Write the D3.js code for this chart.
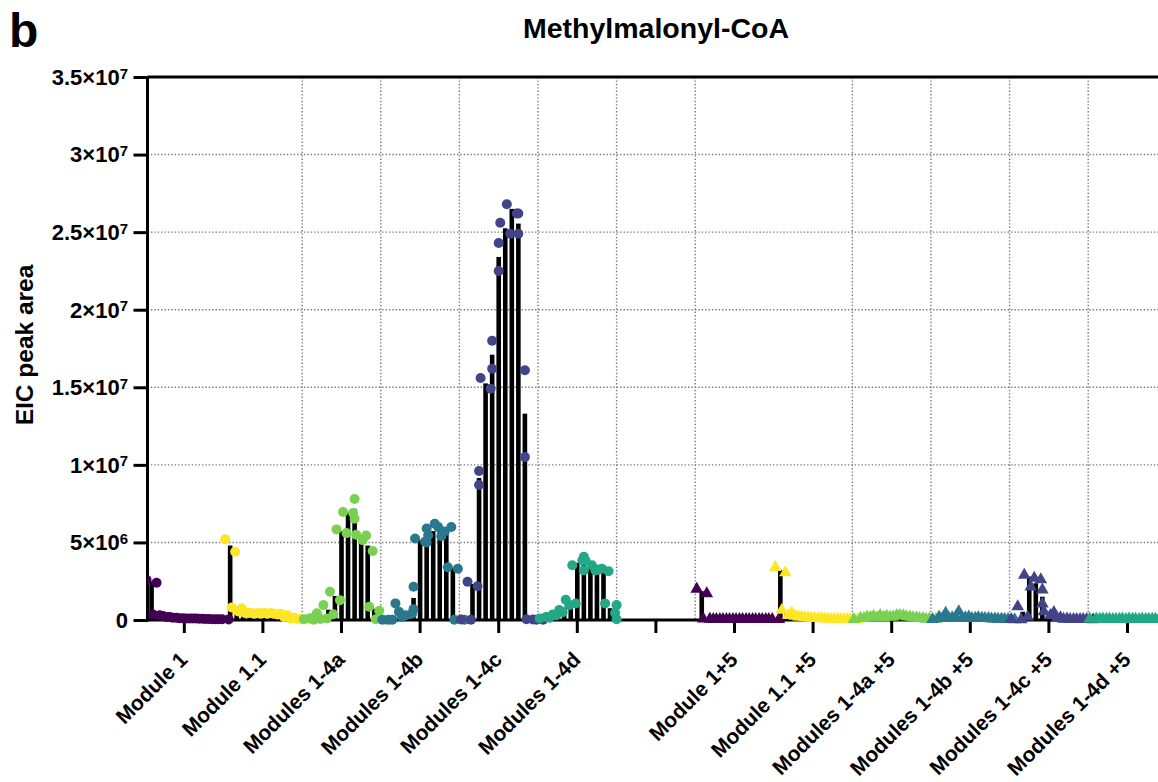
<!DOCTYPE html>
<html>
<head>
<meta charset="utf-8">
<script src="https://cdn.jsdelivr.net/npm/d3@7"></script>
<style>
  body { margin: 0; background: #ffffff; }
  svg { display: block; }
  text { font-family: "Liberation Sans", Arial, Helvetica, sans-serif; fill: #000; }
</style>
</head>
<body>
<svg id="chart" width="1158" height="782"></svg>
<script>
// Categories along the x axis (the empty entry is the spacer between the two sets)
const categories = [
  "Module 1", "Module 1.1", "Modules 1-4a", "Modules 1-4b", "Modules 1-4c", "Modules 1-4d",
  "",
  "Module 1+5", "Module 1.1 +5", "Modules 1-4a +5", "Modules 1-4b +5", "Modules 1-4c +5", "Modules 1-4d +5"
];

// Categories whose left edge carries a vertical grid line
const gridEdges = [
  "Modules 1-4a", "Modules 1-4b", "Modules 1-4c", "Modules 1-4d", "", "Module 1+5",
  "Modules 1-4a +5", "Modules 1-4b +5", "Modules 1-4c +5", "Modules 1-4d +5"
];

// EIC peak areas (×10^6) for fractions 1–12, two replicates each
const module1 = [[2.6,2.4],[0.35,0.25],[0.3,0.2],[0.2,0.15],[0.15,0.12],[0.12,0.1],[0.1,0.1],[0.1,0.08],[0.08,0.06],[0.06,0.05],[0.05,0.05],[0.05,0.04]];
const module11 = [[5.2,4.4],[0.8,0.75],[0.55,0.45],[0.45,0.4],[0.45,0.4],[0.45,0.4],[0.45,0.4],[0.45,0.4],[0.35,0.3],[0.2,0.15],[0.1,0.08],[0.05,0.05]];
const modules14a = [[0.05,0.02],[0.12,0.06],[0.43,0.1],[0.96,0.37],[1.82,1.28],[5.84,5.6],[6.96,6.9],[7.8,6.53],[5.5,5.45],[5.15,4.45],[0.85,0.6],[0.05,0.02]];
const modules14b = [[0.02,0.02],[0.02,0.53],[1.07,0.3],[0.2,0.4],[2.14,0.7],[5.25,5.05],[5.9,5.0],[5.46,6.0],[6.2,5.7],[5.4,6.0],[3.4,3.3],[0.02,0.02]];
const modules14c = [[0.03,0.02],[2.46,2.18],[9.6,8.7],[15.6,14.9],[18.0,16.2],[24.3,22.5],[25.6,24.9],[26.8,26.2],[26.2,24.9],[16.1,10.5],[0.05,0.02],[0.03,0.02]];
const modules14d = [[0.1,0.15],[0.2,0.3],[0.35,0.5],[0.64,0.96],[1.3,1.06],[3.53,3.85],[4.07,3.2],[3.85,3.2],[3.53,3.3],[3.25,3.15],[1.07,0.45],[0.96,0.05]];

const module1p5 = [[2.0,1.7],[0.08,0.05],[0.06,0.05],[0.05,0.04],[0.05,0.04],[0.05,0.04],[0.05,0.04],[0.05,0.04],[0.05,0.04],[0.05,0.04],[0.05,0.04],[0.05,0.04]];
const module11p5 = [[3.4,3.05],[0.64,0.45],[0.3,0.2],[0.25,0.15],[0.2,0.12],[0.15,0.1],[0.12,0.08],[0.1,0.06],[0.08,0.05],[0.06,0.04],[0.05,0.03],[0.04,0.03]];
const modules14ap5 = [[0.05,0.1],[0.12,0.18],[0.2,0.15],[0.25,0.18],[0.3,0.2],[0.25,0.3],[0.2,0.28],[0.3,0.2],[0.22,0.15],[0.15,0.1],[0.1,0.08],[0.06,0.05]];
const modules14bp5 = [[0.05,0.1],[0.2,0.1],[0.45,0.2],[0.15,0.1],[0.55,0.2],[0.15,0.12],[0.1,0.12],[0.15,0.1],[0.1,0.08],[0.08,0.06],[0.06,0.05],[0.05,0.03]];
const modules14cp5 = [[0.05,0.02],[0.86,0.2],[2.9,2.7],[2.14,2.6],[1.95,1.05],[0.55,0.5],[0.3,0.15],[0.1,0.08],[0.06,0.05],[0.05,0.04],[0.05,0.04],[0.05,0.03]];
const modules14dp5 = [[0.08,0.06],[0.07,0.06],[0.08,0.05],[0.07,0.06],[0.06,0.05],[0.08,0.06],[0.07,0.05],[0.06,0.05],[0.07,0.06],[0.06,0.05],[0.06,0.05],[0.05,0.05]];

// Viridis colours per construct
const colors = ["#440154", "#fde725", "#7ad151", "#2a788e", "#414487", "#22a884"];

// Y axis tick values
const yTicks = [0, 5e6, 1e7, 1.5e7, 2e7, 2.5e7, 3e7, 3.5e7];

const series = [
  { cat: "Module 1",        values: module1,      color: colors[0], shape: "circle" },
  { cat: "Module 1.1",      values: module11,     color: colors[1], shape: "circle" },
  { cat: "Modules 1-4a",    values: modules14a,   color: colors[2], shape: "circle" },
  { cat: "Modules 1-4b",    values: modules14b,   color: colors[3], shape: "circle" },
  { cat: "Modules 1-4c",    values: modules14c,   color: colors[4], shape: "circle" },
  { cat: "Modules 1-4d",    values: modules14d,   color: colors[5], shape: "circle" },
  { cat: "Module 1+5",      values: module1p5,    color: colors[0], shape: "triangle" },
  { cat: "Module 1.1 +5",   values: module11p5,   color: colors[1], shape: "triangle" },
  { cat: "Modules 1-4a +5", values: modules14ap5, color: colors[2], shape: "triangle" },
  { cat: "Modules 1-4b +5", values: modules14bp5, color: colors[3], shape: "triangle" },
  { cat: "Modules 1-4c +5", values: modules14cp5, color: colors[4], shape: "triangle" },
  { cat: "Modules 1-4d +5", values: modules14dp5, color: colors[5], shape: "triangle" }
];

const SCALE = 1e6;
const W = 1158, H = 782;
const plotLeft = 145, bandW = 78.6;
const axisX = 147.5;
const plotTop = 77, plotBottom = 620;
const dotR = 5;
const triSize = 70;
const barW = 4.6;
const spreadLimit = 13;        // replicates closer than this (px) are placed side by side
const spreadDx = 5;

const svg = d3.select("#chart");

svg.append("defs").append("clipPath").attr("id", "plot-clip")
  .append("rect").attr("x", axisX).attr("y", 0).attr("width", W).attr("height", H);

const x = d3.scaleBand().domain(categories)
  .range([plotLeft, plotLeft + bandW * categories.length]).padding(0);
const frac = d3.scalePoint().domain(d3.range(12)).range([x.bandwidth() / 12, x.bandwidth()]);
const y = d3.scaleLinear().domain([0, 3.5e7]).range([plotBottom, plotTop]);

// Grid
const grid = svg.append("g").attr("stroke", "#7a7a7a").attr("stroke-width", 1.4)
  .attr("stroke-dasharray", "1.4 2").attr("fill", "none");
grid.selectAll("line.h").data(yTicks.filter(t => t > 0 && t < 3.5e7)).join("line")
  .attr("class", "h")
  .attr("x1", axisX).attr("x2", W)
  .attr("y1", d => y(d)).attr("y2", d => y(d));
grid.selectAll("line.v").data(gridEdges).join("line")
  .attr("class", "v")
  .attr("x1", d => x(d)).attr("x2", d => x(d))
  .attr("y1", plotTop).attr("y2", plotBottom);

// Build bar and point records
const bars = [];
const pts = [];
series.forEach(s => {
  s.values.forEach((reps, k) => {
    const cx = x(s.cat) + frac(k);
    const mean = d3.mean(reps) * SCALE;
    bars.push({ cx, v: mean });
    const py = reps.map(r => y(r * SCALE));
    const spread = Math.abs(py[0] - py[1]) < spreadLimit;
    reps.forEach((r, i) => {
      const dx = spread ? (i === 0 ? -spreadDx : spreadDx) : 0;
      pts.push({ x: cx + dx, y: py[i], color: s.color, shape: s.shape });
    });
  });
});

// Axes
const yAxis = d3.axisLeft(y).tickValues(yTicks).tickSize(14).tickSizeOuter(0).tickFormat("");
const gy = svg.append("g").attr("transform", `translate(${axisX},0)`).call(yAxis);
gy.selectAll("path,line").attr("stroke", "#000").attr("stroke-width", 3);
gy.select(".domain").attr("d", `M0,${plotTop}V${plotBottom + 1.5}`);

const xAxis = d3.axisBottom(x).tickSize(13).tickSizeOuter(0).tickFormat("");
const gx = svg.append("g").attr("transform", `translate(0,${plotBottom})`).call(xAxis);
gx.selectAll("path,line").attr("stroke", "#000").attr("stroke-width", 3);
gx.select(".domain").attr("d", `M${axisX - 1.5},0H${W + 20}`);

// Top frame line
svg.append("line")
  .attr("x1", axisX).attr("x2", W + 20)
  .attr("y1", y(3.5e7)).attr("y2", y(3.5e7))
  .attr("stroke", "#000").attr("stroke-width", 3);

// Bars (means)
svg.append("g").selectAll("rect").data(bars).join("rect")
  .attr("x", d => d.cx - barW / 2)
  .attr("width", barW)
  .attr("y", d => y(d.v))
  .attr("height", d => y(0) - y(d.v))
  .attr("fill", "#000");

// Replicate points
const tri = d3.symbol().type(d3.symbolTriangle).size(triSize);
const gp = svg.append("g").attr("clip-path", "url(#plot-clip)");
pts.forEach(p => {
  if (p.shape === "circle") {
    gp.append("circle").attr("cx", p.x).attr("cy", p.y).attr("r", dotR).attr("fill", p.color);
  } else {
    gp.append("path").attr("d", tri()).attr("transform", `translate(${p.x},${p.y})`).attr("fill", p.color);
  }
});

// Y tick labels with superscript exponents
function sci(v) {
  if (v === 0) return { m: "0", e: null };
  const e = Math.floor(Math.log10(v) + 1e-9);
  const m = +(v / Math.pow(10, e)).toFixed(2);
  return { m: `${m}×10`, e };
}
const yl = svg.append("g");
yTicks.forEach(t => {
  const p = sci(t);
  const tx = yl.append("text").attr("x", 128).attr("y", y(t))
    .attr("text-anchor", "end").attr("dy", "0.36em")
    .attr("font-size", 22).attr("font-weight", "bold");
  tx.append("tspan").text(p.m);
  if (p.e !== null) {
    tx.append("tspan").attr("dy", "-0.42em").attr("font-size", 15).text(p.e);
  }
});

// X tick labels
svg.append("g").selectAll("text").data(categories.filter(c => c !== "")).join("text")
  .attr("transform", d => `translate(${x(d) + x.bandwidth() / 2 + 4.5},661) rotate(-45)`)
  .attr("text-anchor", "end")
  .attr("font-size", 21).attr("font-weight", "bold")
  .text(d => d);

// Axis title
svg.append("text").attr("transform", "translate(33,345) rotate(-90)")
  .attr("text-anchor", "middle")
  .attr("font-size", 24.5).attr("font-weight", "bold")
  .text("EIC peak area");

// Chart title
svg.append("text").attr("x", 656).attr("y", 38)
  .attr("text-anchor", "middle")
  .attr("font-size", 28.5).attr("font-weight", "bold")
  .text("Methylmalonyl-CoA");

// Panel letter
svg.append("text").attr("x", 9).attr("y", 47)
  .attr("font-size", 48).attr("font-weight", "bold")
  .text("b");
</script>
</body>
</html>
